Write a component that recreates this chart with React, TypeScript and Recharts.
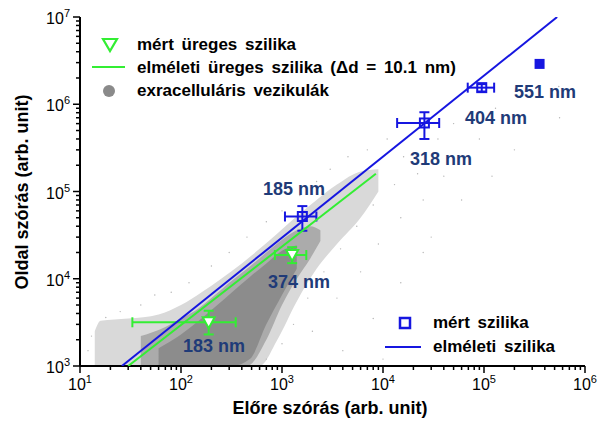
import React from 'react'
import { ComposedChart, Area, Scatter, XAxis, YAxis, ErrorBar } from 'recharts'

// mért szilika (open blue squares)
const silicaLabels = ['185 nm', '318 nm', '404 nm']
const silicaFsc = [1590, 25700, 95000]
const silicaFscLow = [1070, 13800, 69000]
const silicaFscHigh = [2190, 36000, 126000]
const silicaSsc = [51700, 610000, 1550000]
const silicaSscLow = [35500, 400000, 1400000]
const silicaSscHigh = [68000, 810000, 1700000]

// 551 nm szilika (filled square, no error bars)
const bigSilicaFsc = [355000]
const bigSilicaSsc = [2900000]

// mért üreges szilika (open green triangles)
const hollowLabels = ['183 nm', '374 nm']
const hollowFsc = [188, 1260]
const hollowFscLow = [33, 850]
const hollowFscHigh = [348, 1740]
const hollowSsc = [3170, 18700]
const hollowSscLow = [2300, 15100]
const hollowSscHigh = [4300, 23000]

// theoretical curves (end points)
const silicaTheoryFsc = [26, 530000]
const silicaTheorySsc = [1000, 10000000]
const hollowTheoryFsc = [30, 8500]
const hollowTheorySsc = [1000, 160000]

// extracellular vesicle cloud: light envelope, medium band, dense core
const cloudOuterFsc = [14, 16, 30, 60, 100, 160, 250, 400, 600, 900, 1400, 2200, 3500, 6000, 9000]
const cloudOuterLow = [1000, 1000, 1000, 1000, 1000, 1000, 1000, 1000, 1000, 2000, 5500, 13000, 25000, 50000, 100000]
const cloudOuterHigh = [2500, 3300, 3500, 3900, 5000, 7000, 10000, 15000, 22000, 33000, 52000, 80000, 120000, 170000, 180000]

const cloudMidFsc = [40, 70, 100, 150, 200, 300, 450, 700, 1000, 1400, 1900, 2400]
const cloudMidLow = [1000, 1000, 1000, 1000, 1000, 1000, 1000, 2000, 5000, 10000, 17000, 27000]
const cloudMidHigh = [2200, 2800, 3500, 4600, 6000, 9000, 13000, 20000, 28000, 36000, 40000, 36000]

const cloudCoreFsc = [60, 100, 150, 220, 320, 480, 700, 1000, 1400]
const cloudCoreLow = [1000, 1000, 1000, 1000, 1000, 1200, 3000, 6500, 13000]
const cloudCoreHigh = [1600, 2300, 3300, 4800, 7000, 10500, 15000, 21000, 24000]

// scattered single vesicle events outside the main cloud
const strayFsc = [12, 13, 18, 25, 40, 55, 80, 120, 200, 300, 450, 700, 1000, 1500, 2200, 3000, 4500, 7000, 11000, 16000, 22000, 13000, 8000, 5500, 3800, 2600, 1800, 1300, 1000, 700, 2000, 3500, 6000, 9000, 15000, 25000, 40000, 60000, 35000, 50000, 90000, 130000, 200000, 550000, 560000, 30000, 60000, 120000, 200000, 8000, 15000, 4000, 10000, 25000]
const straySsc = [1500, 2200, 3600, 4200, 5000, 6500, 7000, 9000, 14000, 20000, 30000, 45000, 60000, 90000, 130000, 180000, 250000, 300000, 400000, 250000, 160000, 120000, 70000, 40000, 22000, 12000, 6000, 3000, 1800, 1200, 2500, 6000, 12000, 25000, 50000, 80000, 150000, 250000, 400000, 600000, 400000, 900000, 600000, 1600000, 700000, 30000, 80000, 150000, 300000, 3500, 9000, 1500, 1200, 20000]

const xMajor = [10, 100, 1000, 10000, 100000, 1000000]
const yMajor = [1000, 10000, 100000, 1000000, 10000000]

const BLUE = '#1616e0'
const GREEN = '#33ee33'
const NAVY = '#1f3b78'
const FONT = '"Liberation Sans", Arial, sans-serif'

const withMinors = (majors: number[]) => {
  const out: number[] = []
  majors.forEach((m, i) => {
    out.push(m)
    if (i < majors.length - 1) for (let k = 2; k <= 9; k++) out.push(m * k)
  })
  return out
}

const band = (xs: number[], lo: number[], hi: number[]) =>
  xs.map((x, i) => ({ x, band: [lo[i], hi[i]] }))

const points = (xs: number[], ys: number[]) => xs.map((x, i) => ({ x, y: ys[i] }))

const withErrors = (xs: number[], xl: number[], xh: number[], ys: number[], yl: number[], yh: number[]) =>
  xs.map((x, i) => ({
    x,
    y: ys[i],
    ex: [x - xl[i], xh[i] - x],
    ey: [ys[i] - yl[i], yh[i] - ys[i]],
  }))

const silicaData = withErrors(silicaFsc, silicaFscLow, silicaFscHigh, silicaSsc, silicaSscLow, silicaSscHigh)
const hollowData = withErrors(hollowFsc, hollowFscLow, hollowFscHigh, hollowSsc, hollowSscLow, hollowSscHigh)

function LogTick(props: any) {
  const { x, y, payload, side } = props
  const v = payload.value
  const lg = Math.log10(v)
  const exp = Math.round(lg)
  const major = Math.abs(lg - exp) < 1e-6
  const len = major ? 7 : 4
  const sup = (
    <>
      10<tspan dy={-7} fontSize={11}>{exp}</tspan>
    </>
  )
  if (side === 'bottom') {
    return (
      <g>
        <line x1={x} x2={x} y1={y} y2={y + len} stroke="#000" strokeWidth={1.5} />
        {major && (
          <text x={x} y={y + 24} textAnchor="middle" fontSize={16} fontFamily={FONT} fill="#000">
            {sup}
          </text>
        )}
      </g>
    )
  }
  if (side === 'left') {
    return (
      <g>
        <line x1={x} x2={x - len} y1={y} y2={y} stroke="#000" strokeWidth={1.5} />
        {major && (
          <text x={x - 10} y={y + 7} textAnchor="end" fontSize={16} fontFamily={FONT} fill="#000">
            {sup}
          </text>
        )}
      </g>
    )
  }
  if (side === 'top') {
    return <line x1={x} x2={x} y1={y} y2={y + len} stroke="#000" strokeWidth={1.5} />
  }
  return <line x1={x} x2={x - len} y1={y} y2={y} stroke="#000" strokeWidth={1.5} />
}

const Square = (props: any) => {
  const { cx, cy } = props
  if (cx == null || cy == null) return <g />
  return <rect x={cx - 4.5} y={cy - 4.5} width={9} height={9} fill="none" stroke={BLUE} strokeWidth={2} />
}

const FilledSquare = (props: any) => {
  const { cx, cy } = props
  if (cx == null || cy == null) return <g />
  return <rect x={cx - 5} y={cy - 5} width={10} height={10} fill={BLUE} />
}

const Triangle = (props: any) => {
  const { cx, cy } = props
  if (cx == null || cy == null) return <g />
  return (
    <polygon
      points={`${cx - 6},${cy - 5} ${cx + 6},${cy - 5} ${cx},${cy + 6}`}
      fill="#fff"
      stroke={GREEN}
      strokeWidth={2}
    />
  )
}

const Dot = (props: any) => {
  const { cx, cy } = props
  if (cx == null || cy == null) return <g />
  return <circle cx={cx} cy={cy} r={0.7} fill="#b4b4b4" />
}

const NoShape = () => <g />

const labelStyle: React.CSSProperties = {
  position: 'absolute',
  fontFamily: FONT,
  fontWeight: 'bold',
  fontSize: 18,
  color: NAVY,
  transform: 'translate(-50%, -50%)',
  whiteSpace: 'nowrap',
}

const legendText: React.CSSProperties = {
  position: 'absolute',
  fontFamily: FONT,
  fontWeight: 'bold',
  fontSize: 17,
  color: '#000',
  transform: 'translateY(-50%)',
  whiteSpace: 'nowrap',
  wordSpacing: 3,
}

// label centres in pixels (annotation layout)
const silicaLabelPos = [[294, 189], [441, 159], [496, 118]]
const bigLabelPos = [545, 92]
const hollowLabelPos = [[214, 346], [299, 282]]

export default function App() {
  const xTicks = withMinors(xMajor)
  const yTicks = withMinors(yMajor)
  return (
    <div style={{ position: 'absolute', left: 0, top: 0, width: 602, height: 423, background: '#fff' }}>
      <ComposedChart width={602} height={423} margin={{ top: 17, right: 17, bottom: 0, left: 0 }}>
        <XAxis
          dataKey="x"
          type="number"
          scale="log"
          domain={[10, 1000000]}
          allowDataOverflow
          ticks={xTicks}
          interval={0}
          height={57}
          tickSize={0}
          tickMargin={0}
          tickLine={false}
          axisLine={{ stroke: '#000', strokeWidth: 2 }}
          tick={<LogTick side="bottom" />}
        />
        <XAxis
          xAxisId="top"
          orientation="top"
          dataKey="x"
          type="number"
          scale="log"
          domain={[10, 1000000]}
          allowDataOverflow
          ticks={xTicks}
          interval={0}
          height={0}
          tickSize={0}
          tickMargin={0}
          tickLine={false}
          axisLine={{ stroke: '#000', strokeWidth: 2 }}
          tick={<LogTick side="top" />}
        />
        <YAxis
          type="number"
          scale="log"
          domain={[1000, 10000000]}
          allowDataOverflow
          ticks={yTicks}
          interval={0}
          width={80}
          tickSize={0}
          tickMargin={0}
          tickLine={false}
          axisLine={{ stroke: '#000', strokeWidth: 2 }}
          tick={<LogTick side="left" />}
        />
        <YAxis
          yAxisId="right"
          orientation="right"
          type="number"
          scale="log"
          domain={[1000, 10000000]}
          allowDataOverflow
          ticks={yTicks}
          interval={0}
          width={0}
          tickSize={0}
          tickMargin={0}
          tickLine={false}
          axisLine={{ stroke: '#000', strokeWidth: 2 }}
          tick={<LogTick side="right" />}
        />

        <Area data={band(cloudOuterFsc, cloudOuterLow, cloudOuterHigh)} dataKey="band" type="monotone" stroke="none" fill="#d9d9d9" fillOpacity={1} dot={false} activeDot={false} isAnimationActive={false} />
        <Area data={band(cloudMidFsc, cloudMidLow, cloudMidHigh)} dataKey="band" type="monotone" stroke="none" fill="#ababab" fillOpacity={1} dot={false} activeDot={false} isAnimationActive={false} />
        <Area data={band(cloudCoreFsc, cloudCoreLow, cloudCoreHigh)} dataKey="band" type="monotone" stroke="none" fill="#8c8c8c" fillOpacity={1} dot={false} activeDot={false} isAnimationActive={false} />
        <Scatter data={points(strayFsc, straySsc)} dataKey="y" shape={<Dot />} isAnimationActive={false} />

        <Scatter data={points(silicaTheoryFsc, silicaTheorySsc)} dataKey="y" line={{ stroke: BLUE, strokeWidth: 2 }} shape={<NoShape />} isAnimationActive={false} />
        <Scatter data={points(hollowTheoryFsc, hollowTheorySsc)} dataKey="y" line={{ stroke: GREEN, strokeWidth: 2 }} shape={<NoShape />} isAnimationActive={false} />

        <Scatter data={hollowData} dataKey="y" shape={<Triangle />} isAnimationActive={false}>
          <ErrorBar dataKey="ex" direction="x" width={5} stroke={GREEN} strokeWidth={2} />
          <ErrorBar dataKey="ey" direction="y" width={5} stroke={GREEN} strokeWidth={2} />
        </Scatter>
        <Scatter data={silicaData} dataKey="y" shape={<Square />} isAnimationActive={false}>
          <ErrorBar dataKey="ex" direction="x" width={5} stroke={BLUE} strokeWidth={2} />
          <ErrorBar dataKey="ey" direction="y" width={5} stroke={BLUE} strokeWidth={2} />
        </Scatter>
        <Scatter data={points(bigSilicaFsc, bigSilicaSsc)} dataKey="y" shape={<FilledSquare />} isAnimationActive={false} />
      </ComposedChart>

      {silicaLabels.map((t, i) => (
        <div key={t} style={{ ...labelStyle, left: silicaLabelPos[i][0], top: silicaLabelPos[i][1] }}>{t}</div>
      ))}
      <div style={{ ...labelStyle, left: bigLabelPos[0], top: bigLabelPos[1] }}>551 nm</div>
      {hollowLabels.map((t, i) => (
        <div key={t} style={{ ...labelStyle, left: hollowLabelPos[i][0], top: hollowLabelPos[i][1] }}>{t}</div>
      ))}

      {/* legend markers */}
      <svg style={{ position: 'absolute', left: 0, top: 0 }} width={602} height={423} pointerEvents="none">
        <polygon points="103,39 117,39 110,51" fill="#fff" stroke={GREEN} strokeWidth={2.2} />
        <line x1={92} x2={125} y1={67} y2={67} stroke={GREEN} strokeWidth={2} />
        <circle cx={109} cy={91} r={6} fill="#8a8a8a" />
        <rect x={400} y={318} width={10} height={10} fill="none" stroke={BLUE} strokeWidth={2.5} />
        <line x1={385} x2={421} y1={347} y2={347} stroke={BLUE} strokeWidth={2} />
      </svg>
      <div style={{ ...legendText, left: 137, top: 45 }}>mért üreges szilika</div>
      <div style={{ ...legendText, left: 137, top: 68 }}>elméleti üreges szilika (Δd = 10.1 nm)</div>
      <div style={{ ...legendText, left: 137, top: 91 }}>exracelluláris vezikulák</div>
      <div style={{ ...legendText, left: 433, top: 323 }}>mért szilika</div>
      <div style={{ ...legendText, left: 433, top: 347 }}>elméleti szilika</div>

      {/* axis titles */}
      <div
        style={{
          position: 'absolute',
          left: 330,
          top: 408,
          transform: 'translate(-50%, -50%)',
          fontFamily: FONT,
          fontWeight: 'bold',
          fontSize: 18,
          whiteSpace: 'nowrap',
        }}
      >
        Előre szórás (arb. unit)
      </div>
      <div
        style={{
          position: 'absolute',
          left: 22,
          top: 192,
          transform: 'translate(-50%, -50%) rotate(-90deg)',
          fontFamily: FONT,
          fontWeight: 'bold',
          fontSize: 18,
          whiteSpace: 'nowrap',
        }}
      >
        Oldal szórás (arb. unit)
      </div>
    </div>
  )
}
